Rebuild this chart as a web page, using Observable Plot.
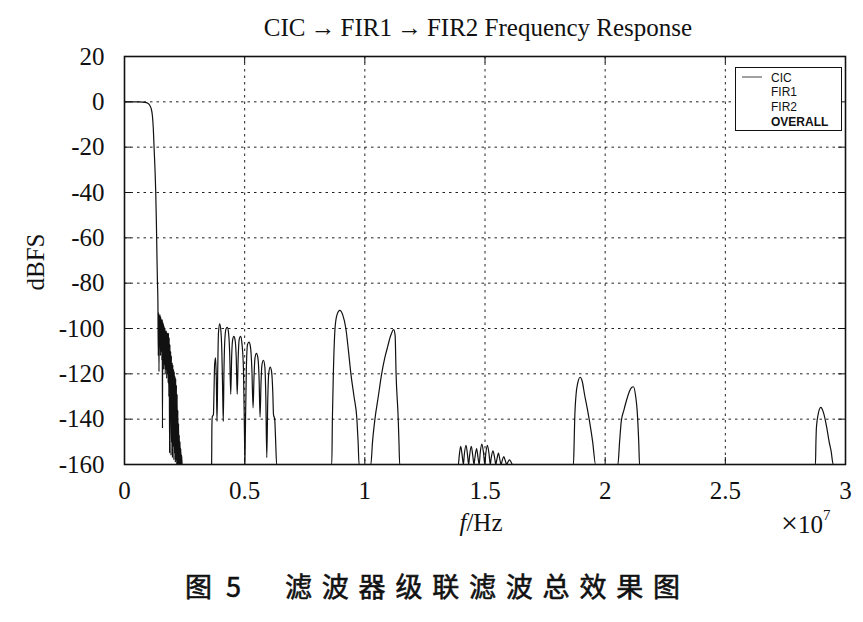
<!DOCTYPE html>
<html>
<head>
<meta charset="utf-8">
<script src="https://cdn.jsdelivr.net/npm/d3@7"></script>
<script src="https://cdn.jsdelivr.net/npm/@observablehq/plot@0.6"></script>
<style>
  html, body { margin: 0; padding: 0; background: #fff; }
  #wrap { position: relative; width: 863px; height: 622px; overflow: hidden; }
  .cap { position: absolute; top: 571px; font-family: "Noto Sans CJK SC", sans-serif; font-size: 27px; line-height: 30px; color: #111; font-weight: 400; white-space: pre; -webkit-text-stroke: 0.6px #111; }
</style>
</head>
<body>
<div id="wrap"></div>
<script>
// ---- data (frequency in units of 1e7 Hz, level in dBFS) ----
const xTicks = [0, 0.5, 1, 1.5, 2, 2.5, 3];
const yTicks = [20, 0, -20, -40, -60, -80, -100, -120, -140, -160];
const seriesNames = ["CIC", "FIR1", "FIR2", "OVERALL"];

// CIC passband and roll-off
const passband = [
  [0, 0], [0.03, 0], [0.06, -0.05], [0.085, -0.2], [0.097, -0.6], [0.105, -1.5],
  [0.111, -3], [0.116, -6], [0.12, -12], [0.123, -20], [0.127, -30], [0.13, -40],
  [0.133, -55], [0.135, -68], [0.137, -79], [0.139, -88]
];
// dense stop-band ripple right after the transition
const transition = [
  [0.1405, -112], [0.142, -93], [0.1435, -119], [0.145, -94], [0.1465, -108], [0.148, -94],
  [0.1495, -112], [0.151, -95], [0.1525, -110], [0.154, -96], [0.1555, -114], [0.157, -96],
  [0.158, -144], [0.159, -97], [0.1605, -115], [0.162, -98], [0.1635, -118], [0.165, -99],
  [0.1665, -116], [0.168, -100], [0.1695, -120], [0.171, -101], [0.1725, -118], [0.174, -101],
  [0.1755, -122], [0.177, -102], [0.1785, -120], [0.18, -102], [0.1815, -124], [0.183, -102],
  [0.1845, -130], [0.186, -104], [0.1875, -155], [0.189, -107], [0.1905, -140], [0.192, -110],
  [0.1935, -156], [0.195, -112], [0.1965, -150], [0.198, -115], [0.1995, -157], [0.201, -116],
  [0.2025, -152], [0.204, -118], [0.2055, -158], [0.207, -119], [0.2085, -155], [0.21, -121],
  [0.2115, -159], [0.213, -122], [0.2145, -158], [0.216, -125], [0.2175, -160], [0.219, -129],
  [0.2205, -160], [0.222, -136], [0.2235, -160], [0.225, -142], [0.2265, -160], [0.228, -147],
  [0.2295, -160], [0.231, -150], [0.2325, -160], [0.234, -153], [0.236, -160], [0.2375, -156],
  [0.24, -160]
];
// lobe group around 0.5e7
const lobesA = [
  [0.3625, -160], [0.3635, -145], [0.365, -139], [0.37, -138], [0.372, -130], [0.375, -116],
  [0.379, -113], [0.382, -122], [0.385, -141], [0.388, -118], [0.391, -102], [0.396, -98],
  [0.401, -101], [0.405, -110], [0.408, -125], [0.411, -141], [0.414, -118], [0.418, -104],
  [0.423, -100], [0.428, -99.5], [0.433, -102], [0.438, -112], [0.442, -129], [0.446, -112],
  [0.45, -105], [0.455, -103.5], [0.46, -105], [0.465, -113], [0.469, -129], [0.473, -113],
  [0.477, -105], [0.483, -103.5], [0.489, -107], [0.495, -118], [0.499, -145], [0.501, -160],
  [0.503, -145], [0.507, -118], [0.512, -107], [0.518, -106], [0.524, -108], [0.53, -118],
  [0.535, -135], [0.539, -121], [0.543, -113], [0.549, -111], [0.555, -113], [0.56, -122],
  [0.564, -139], [0.568, -124], [0.572, -116], [0.578, -114], [0.584, -117], [0.588, -130],
  [0.592, -157], [0.596, -132], [0.6, -120], [0.606, -117], [0.612, -119], [0.617, -128],
  [0.62, -138], [0.625, -140], [0.629, -150], [0.633, -160]
];
// image lobes near 1e7
const lobesB = [
  [0.8625, -160], [0.865, -140], [0.869, -120], [0.876, -100], [0.884, -94], [0.896, -92],
  [0.908, -94], [0.921, -100], [0.932, -110], [0.942, -120], [0.955, -130], [0.967, -140],
  [0.972, -150], [0.976, -160],
  [1.025, -160], [1.032, -150], [1.042, -140], [1.056, -130], [1.07, -120], [1.083, -113],
  [1.095, -108], [1.108, -103], [1.12, -100.5], [1.126, -103], [1.13, -120], [1.139, -140],
  [1.142, -150], [1.145, -160]
];
// small ripple around 1.5e7
const rippleC = [
  [1.389, -160], [1.393, -156], [1.399, -152], [1.405, -156], [1.41, -160],
  [1.414, -155.5], [1.421, -151.5], [1.427, -155.5], [1.432, -160],
  [1.436, -156], [1.443, -152], [1.449, -156], [1.454, -160],
  [1.458, -157], [1.465, -153], [1.471, -157], [1.476, -160],
  [1.48, -155], [1.487, -151], [1.494, -155], [1.499, -160],
  [1.503, -155.5], [1.51, -151.5], [1.517, -155.5], [1.522, -160],
  [1.526, -157], [1.533, -154], [1.54, -157], [1.545, -160],
  [1.549, -158], [1.556, -155], [1.562, -158], [1.567, -160],
  [1.571, -158.5], [1.578, -156.5], [1.585, -158.5], [1.59, -160],
  [1.595, -159], [1.602, -158], [1.609, -159], [1.614, -160]
];
// image lobes near 2e7
const lobesD = [
  [1.868, -160], [1.871, -150], [1.873, -141], [1.879, -129], [1.886, -124], [1.896, -121.5],
  [1.905, -123.5], [1.914, -129], [1.925, -135], [1.935, -141], [1.948, -150], [1.96, -160],
  [2.053, -160], [2.06, -150], [2.067, -141], [2.078, -136], [2.088, -132], [2.1, -128],
  [2.11, -126], [2.118, -125.7], [2.127, -130], [2.133, -136], [2.14, -151], [2.143, -160]
];
// image lobe near 2.9e7
const lobesE = [
  [2.875, -160], [2.877, -150], [2.879, -143.7], [2.886, -138], [2.897, -134.8],
  [2.908, -137], [2.922, -143.7], [2.932, -150], [2.94, -154], [2.949, -160]
];
const baselineEnds = [[3, -160]];

const curve = [...passband, ...transition, ...lobesA, ...lobesB, ...rippleC, ...lobesD, ...lobesE, ...baselineEnds]
  .map(([f, db]) => ({f, db}));

// ---- chart ----
const W = 863, H = 560;
const mL = 124, mR = 18, mT = 56, mB = 96;
const pw = W - mL - mR, ph = H - mT - mB;
const serif = "'Liberation Serif', 'Times New Roman', serif";

const svg = Plot.plot({
  width: W, height: H,
  marginLeft: mL, marginRight: mR, marginTop: mT, marginBottom: mB,
  style: {fontFamily: serif, fontSize: "25px", color: "#111", background: "#fff"},
  x: {domain: [0, 3], label: null},
  y: {domain: [-160, 20], label: null},
  marks: [
    Plot.gridX(xTicks, {stroke: "#222", strokeOpacity: 1, strokeWidth: 1, strokeDasharray: "2.5,4"}),
    Plot.gridY(yTicks, {stroke: "#222", strokeOpacity: 1, strokeWidth: 1, strokeDasharray: "2.5,4"}),
    Plot.line(curve, {x: "f", y: "db", curve: "monotone-x", stroke: "#111", strokeWidth: 1.2}),
    Plot.tickY(yTicks, {y: d => d, insetRight: pw - 7, stroke: "#111"}),
    Plot.tickY(yTicks, {y: d => d, insetLeft: pw - 7, stroke: "#111"}),
    Plot.tickX(xTicks, {x: d => d, insetTop: ph - 7, stroke: "#111"}),
    Plot.tickX(xTicks, {x: d => d, insetBottom: ph - 7, stroke: "#111"}),
    Plot.frame({stroke: "#111", strokeWidth: 1.6}),
    Plot.axisX(xTicks, {tickSize: 0, tickPadding: 17, tickFormat: d => String(d), fontSize: 25}),
    Plot.axisY(yTicks, {tickSize: 0, tickPadding: 20, tickFormat: d => String(d), fontSize: 25}),
    Plot.text(["CIC\u2009\u2192\u2009FIR1\u2009\u2192\u2009FIR2 Frequency Response"], {
      frameAnchor: "top", dy: -38, dx: -7, fontSize: 25, fill: "#111"
    })
  ]
});

const s = d3.select(svg);
// y axis label
s.append("text")
  .attr("transform", "translate(44,262) rotate(-90)")
  .attr("text-anchor", "middle")
  .attr("font-family", serif).attr("font-size", 25).attr("fill", "#111")
  .text("dBFS");
// x axis label
const xl = s.append("text")
  .attr("x", 481).attr("y", 531)
  .attr("text-anchor", "middle")
  .attr("font-family", serif).attr("font-size", 25).attr("fill", "#111");
xl.append("tspan").attr("font-style", "italic").text("f");
xl.append("tspan").text("/Hz");
// exponent
const ex = s.append("text")
  .attr("x", 781).attr("y", 533)
  .attr("text-anchor", "start")
  .attr("font-family", serif).attr("font-size", 25).attr("fill", "#111");
ex.append("tspan").attr("font-size", 30).text("\u00d7");
ex.append("tspan").text("10");
ex.append("tspan").attr("font-size", 15).attr("dy", -13).text("7");

// legend box
const lg = s.append("g").attr("font-family", "'Liberation Sans', Arial, sans-serif")
  .attr("font-size", 12).attr("fill", "#111").attr("text-anchor", "start");
lg.append("rect").attr("x", 735.5).attr("y", 67.5).attr("width", 106).attr("height", 63)
  .attr("fill", "#fff").attr("stroke", "#111").attr("stroke-width", 1);
lg.append("line").attr("x1", 742).attr("x2", 762).attr("y1", 77).attr("y2", 77)
  .attr("stroke", "#111").attr("stroke-width", 0.8);
seriesNames.forEach((name, i) => {
  lg.append("text").attr("x", 771).attr("y", 81.5 + i * 14.8)
    .attr("text-anchor", "start")
    .attr("font-weight", name === "OVERALL" ? "bold" : "normal")
    .text(name);
});

const wrap = document.getElementById("wrap");
wrap.appendChild(svg);
const c1 = document.createElement("div");
c1.className = "cap"; c1.style.left = "185px"; c1.style.letterSpacing = "4px";
c1.textContent = "图 5";
const c2 = document.createElement("div");
c2.className = "cap"; c2.style.left = "285px"; c2.style.letterSpacing = "9.8px";
c2.textContent = "滤波器级联滤波总效果图";
wrap.appendChild(c1); wrap.appendChild(c2);
</script>
</body>
</html>
